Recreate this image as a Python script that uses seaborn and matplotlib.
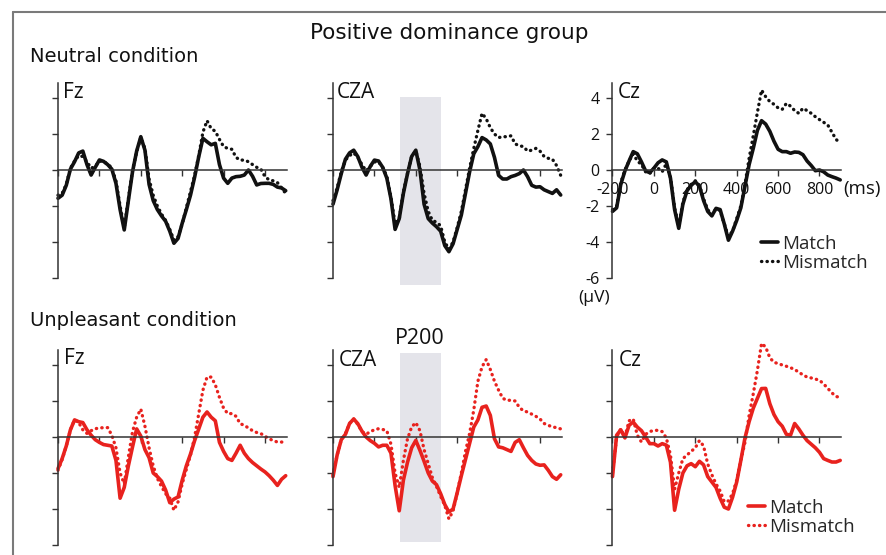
import matplotlib
matplotlib.use("Agg")
import matplotlib.pyplot as plt
from matplotlib.lines import Line2D
import numpy as np
import pandas as pd
import seaborn as sns

# ---------------- data ----------------
time_ms = list(range(-200, 901, 20))

neutral_fz_match = [-1.57, -1.4, -0.85, 0.05, 0.46, 0.95, 1.05, 0.3, -0.28, 0.15,
                    0.56, 0.48, 0.3, 0.05, -0.74, -2.2, -3.33, -1.7, -0.1, 1.05,
                    1.85, 1.1, -0.8, -1.7, -2.2, -2.55, -2.85, -3.4, -4.07, -3.8,
                    -2.96, -2.2, -1.4, -0.4, 0.74, 1.76, 1.57, 1.4, 1.48, 0.3,
                    -0.45, -0.74, -0.45, -0.37, -0.35, -0.28, 0.0, -0.35, -0.83, -0.75,
                    -0.74, -0.74, -0.8, -0.95, -1.0, -1.15]
neutral_fz_mismatch = [-1.4, -1.3, -0.8, 0.1, 0.5, 0.8, 0.75, 0.45, 0.1, 0.2,
                       0.5, 0.45, 0.35, 0.1, -0.6, -2.0, -3.2, -1.6, 0.0, 1.0,
                       1.8, 1.2, -0.5, -1.4, -2.0, -2.45, -2.8, -3.3, -3.9, -3.7,
                       -3.0, -2.1, -1.2, -0.3, 0.8, 2.1, 2.74, 2.3, 2.15, 1.7,
                       1.3, 1.2, 1.15, 0.7, 0.55, 0.55, 0.46, 0.3, 0.15, 0.05,
                       -0.37, -0.55, -0.6, -0.7, -1.0, -1.3]
neutral_cza_match = [-1.9, -1.1, -0.2, 0.6, 0.95, 1.1, 0.74, 0.15, -0.28, 0.2,
                     0.55, 0.5, 0.15, -0.45, -1.6, -3.3, -2.7, -1.3, -0.2, 0.75,
                     1.1, 0.0, -1.9, -2.7, -2.95, -3.15, -3.4, -4.2, -4.54, -4.1,
                     -3.3, -2.5, -1.3, -0.1, 0.9, 1.3, 1.8, 1.67, 1.45, 0.7,
                     -0.3, -0.5, -0.5, -0.37, -0.3, -0.2, 0.0, -0.37, -0.85, -0.95,
                     -0.93, -1.1, -1.2, -1.3, -1.1, -1.39]
neutral_cza_mismatch = [-1.7, -1.0, -0.1, 0.55, 0.8, 0.95, 0.7, 0.3, -0.05, 0.2,
                        0.45, 0.45, 0.15, -0.35, -1.5, -3.0, -2.7, -1.2, -0.2, 0.75,
                        1.05, 0.2, -1.3, -2.3, -2.8, -2.9, -3.1, -4.0, -4.4, -4.0,
                        -3.2, -2.3, -1.1, 0.1, 1.2, 2.2, 3.15, 2.85, 2.35, 2.0,
                        1.8, 1.85, 1.85, 1.9, 1.45, 1.35, 1.3, 1.05, 1.1, 1.2,
                        1.05, 0.75, 0.65, 0.6, 0.25, -0.3]
neutral_cz_match = [-2.3, -2.1, -0.8, -0.05, 0.5, 1.02, 0.9, 0.45, -0.05, -0.15,
                    0.1, 0.4, 0.56, 0.45, -0.45, -2.2, -3.24, -1.9, -1.15, -0.85,
                    -0.65, -0.9, -1.7, -2.3, -2.55, -2.13, -2.2, -3.0, -3.9, -3.4,
                    -2.8, -2.1, -0.9, 0.3, 1.2, 2.2, 2.74, 2.55, 2.15, 1.6,
                    1.15, 1.02, 1.02, 0.93, 1.0, 0.98, 0.85, 0.5, 0.25, -0.04,
                    0.0, -0.1, -0.28, -0.37, -0.45, -0.55]
neutral_cz_mismatch = [-2.2, -2.0, -0.7, 0.0, 0.5, 0.9, 0.5, 0.3, -0.1, -0.2,
                       0.1, 0.1, -0.1, 0.35, -0.4, -2.1, -3.1, -1.8, -1.1, -0.8,
                       -0.6, -0.85, -1.6, -2.2, -2.5, -2.15, -2.25, -3.0, -3.7, -3.4,
                       -2.7, -2.0, -0.8, 0.65, 1.9, 3.2, 4.44, 4.07, 3.8, 3.65,
                       3.45, 3.37, 3.7, 3.55, 3.3, 3.15, 3.43, 3.3, 3.15, 2.96,
                       2.8, 2.65, 2.5, 2.1, 1.7, 1.5]

unpleasant_fz_match = [-1.76, -1.2, -0.5, 0.4, 0.95, 0.85, 0.8, 0.4, 0.1, -0.15,
                       -0.3, -0.42, -0.46, -0.5, -1.3, -3.4, -2.8, -1.6, -0.55, 0.45,
                       0.05, -0.7, -1.15, -2.0, -2.2, -2.45, -2.95, -3.65, -3.45, -3.33,
                       -2.4, -1.6, -0.95, -0.2, 0.45, 1.1, 1.39, 1.1, 0.9, -0.3,
                       -0.8, -1.2, -1.3, -0.9, -0.46, -0.9, -1.2, -1.42, -1.6, -1.78,
                       -1.94, -2.15, -2.4, -2.69, -2.35, -2.15]
unpleasant_fz_mismatch = [-1.85, -1.25, -0.5, 0.4, 0.95, 0.8, 0.4, 0.2, 0.35, 0.46,
                          0.5, 0.52, 0.52, 0.1, -0.6, -2.0, -2.6, -1.1, 0.3, 1.1,
                          1.55, 0.6, -0.6, -1.6, -2.3, -2.75, -3.15, -3.4, -4.07, -3.6,
                          -2.6, -1.8, -1.0, 0.0, 1.3, 2.6, 3.33, 3.33, 2.9, 2.2,
                          1.6, 1.3, 1.3, 1.15, 0.74, 0.65, 0.5, 0.35, 0.25, 0.19,
                          0.04, -0.1, -0.2, -0.28, -0.28, -0.3]
unpleasant_cza_match = [-2.2, -1.0, -0.15, 0.15, 0.75, 1.0, 0.74, 0.32, 0.0, -0.2,
                        -0.35, -0.55, -0.46, -0.46, -0.9, -2.7, -4.1, -2.4, -1.4, -0.6,
                        -0.19, -0.74, -1.35, -2.0, -2.45, -2.65, -3.15, -3.75, -4.17, -4.0,
                        -3.1, -2.15, -1.25, -0.35, 0.55, 0.95, 1.65, 1.72, 1.2, -0.1,
                        -0.55, -0.6, -0.7, -0.8, -0.3, -0.15, -0.6, -1.02, -1.3, -1.5,
                        -1.57, -1.55, -1.85, -2.2, -2.35, -2.1]
unpleasant_cza_mismatch = [-2.1, -1.0, -0.15, 0.2, 0.75, 1.0, 0.7, 0.3, 0.15, 0.3,
                           0.4, 0.46, 0.42, 0.35, -0.4, -2.0, -2.8, -1.3, -0.1, 0.56,
                           0.8, 0.35, -0.7, -1.48, -2.25, -2.75, -3.3, -3.8, -4.55, -4.1,
                           -3.1, -2.0, -0.8, 0.2, 1.5, 3.1, 3.9, 4.3, 3.75, 3.1,
                           2.6, 2.15, 2.04, 2.04, 2.0, 1.65, 1.45, 1.39, 1.27, 1.15,
                           1.0, 0.75, 0.65, 0.56, 0.52, 0.45]
unpleasant_cz_match = [-2.2, 0.1, 0.4, -0.05, 0.65, 0.83, 0.55, 0.35, 0.0, -0.37,
                       -0.37, -0.5, -0.37, -0.45, -1.4, -4.07, -2.9, -2.0, -1.6, -1.48,
                       -1.65, -1.35, -1.55, -2.2, -2.5, -2.8, -3.4, -3.9, -4.0, -3.35,
                       -2.5, -1.3, -0.05, 0.85, 1.6, 2.15, 2.69, 2.7, 1.85, 1.25,
                       0.85, 0.6, 0.15, 0.1, 0.75, 0.45, 0.1, -0.2, -0.4, -0.6,
                       -0.85, -1.2, -1.3, -1.39, -1.39, -1.3]
unpleasant_cz_mismatch = [-2.0, 0.0, 0.45, 0.0, 0.9, 1.0, 0.1, -0.28, 0.15, 0.3,
                          0.37, 0.37, 0.3, -0.05, -1.0, -2.9, -2.0, -1.2, -1.0, -0.8,
                          -0.6, -0.2, -0.5, -1.5, -2.1, -2.6, -3.0, -3.6, -3.55, -3.15,
                          -2.4, -1.3, -0.3, 1.2, 2.4, 3.7, 5.2, 5.0, 4.4, 4.15,
                          4.08, 4.0, 3.93, 3.85, 3.75, 3.6, 3.45, 3.33, 3.28, 3.22,
                          3.15, 2.95, 2.7, 2.45, 2.25, 2.2]

conditions = ["Neutral condition", "Unpleasant condition"]
electrodes = ["Fz", "CZA", "Cz"]
levels = ["Match", "Mismatch"]
series = {
    ("Neutral condition", "Fz"): (neutral_fz_match, neutral_fz_mismatch),
    ("Neutral condition", "CZA"): (neutral_cza_match, neutral_cza_mismatch),
    ("Neutral condition", "Cz"): (neutral_cz_match, neutral_cz_mismatch),
    ("Unpleasant condition", "Fz"): (unpleasant_fz_match, unpleasant_fz_mismatch),
    ("Unpleasant condition", "CZA"): (unpleasant_cza_match, unpleasant_cza_mismatch),
    ("Unpleasant condition", "Cz"): (unpleasant_cz_match, unpleasant_cz_mismatch),
}
xticks = [-200, 0, 200, 400, 600, 800]
yticks = [-6, -4, -2, 0, 2, 4]
p200_window = (125, 320)

rows = []
for (cond, el), (m, mm) in series.items():
    for lev, vals in zip(levels, (m, mm)):
        for t, v in zip(time_ms, vals):
            rows.append((cond, el, lev, t, v))
df = pd.DataFrame(rows, columns=["condition", "electrode", "type", "time", "uv"])

# ---------------- style ----------------
sns.set_theme(style="white")
plt.rcParams["font.family"] = ["Open Sans", "DejaVu Sans"]
plt.rcParams["lines.dash_capstyle"] = "round"
plt.rcParams["lines.solid_capstyle"] = "round"
plt.rcParams["lines.solid_joinstyle"] = "round"

W, H = 887, 555
fig = plt.figure(figsize=(W / 100, H / 100), dpi=100)


def fx(x):
    return x / W


def fy(y):
    return 1 - y / H


row_colors = {"Neutral condition": "#111111", "Unpleasant condition": "#e8221e"}
row_zero_px = {"Neutral condition": 170, "Unpleasant condition": 437}
col_left_px = {"Fz": 58, "CZA": 333, "Cz": 612.5}
px_per_ms = 0.207
px_per_uv = 18.0
XLIM = (-200, 910)
YLIM = (-6, 4.85)
axis_col = "#333333"
txt_col = "#111111"

axes = {}
for cond in conditions:
    for el in electrodes:
        left = col_left_px[el]
        top = row_zero_px[cond] - YLIM[1] * px_per_uv
        wpx = (XLIM[1] - XLIM[0]) * px_per_ms
        hpx = (YLIM[1] - YLIM[0]) * px_per_uv
        ax = fig.add_axes([fx(left), fy(top + hpx), wpx / W, hpx / H])
        ax.patch.set_visible(False)
        sub = df[(df.condition == cond) & (df.electrode == el)]
        if el == "CZA":
            lo, hi = (-6.4, 4.05) if cond == "Neutral condition" else (-5.85, 4.65)
            ax.fill_between(list(p200_window), lo, hi, color="#e4e4ea",
                            linewidth=0, zorder=0, clip_on=False)
        sns.lineplot(data=sub, x="time", y="uv", style="type", style_order=levels,
                     dashes={"Match": "", "Mismatch": (0.1, 1.55)},
                     color=row_colors[cond], linewidth=2.6, errorbar=None,
                     legend=False, ax=ax)
        for ln in ax.lines:
            ln.set_clip_on(False)
            if ln.get_linestyle() != "-":
                ln.set_linewidth(2.4)
        ax.set_xlim(*XLIM)
        ax.set_ylim(*YLIM)
        ax.set_xlabel("")
        ax.set_ylabel("")
        for s in ("top", "right"):
            ax.spines[s].set_visible(False)
        ax.spines["bottom"].set_position(("data", 0))
        ax.spines["bottom"].set_bounds(-200, 905)
        for s in ("left", "bottom"):
            ax.spines[s].set_color(axis_col)
            ax.spines[s].set_linewidth(1.1)
        ax.set_xticks(xticks)
        ax.set_yticks(yticks)
        show = (cond == "Neutral condition" and el == "Cz")
        ax.tick_params(axis="both", direction="out", length=4, width=1.0,
                       color=axis_col, labelsize=11.5, labelcolor=txt_col,
                       left=True, bottom=True,
                       labelleft=show, labelbottom=show)
        ax.tick_params(axis="y", pad=5.5)
        ax.tick_params(axis="x", pad=4.5)
        if show:
            ax.set_xticklabels([str(t) for t in xticks])
            ax.set_yticklabels([str(t) for t in yticks])
        axes[(cond, el)] = ax

# panel labels
label_pos = {
    ("Neutral condition", "Fz"): (63, 92), ("Neutral condition", "CZA"): (337, 92),
    ("Neutral condition", "Cz"): (618, 92), ("Unpleasant condition", "Fz"): (64, 359),
    ("Unpleasant condition", "CZA"): (339, 360), ("Unpleasant condition", "Cz"): (619, 360),
}
for (cond, el), (x, y) in label_pos.items():
    fig.text(fx(x), fy(y), el, ha="left", va="center", fontsize=15, color=txt_col)

fig.text(fx(449), fy(33), "Positive dominance group", ha="center", va="center",
         fontsize=15.5, family="DejaVu Sans", color=txt_col)
fig.text(fx(30), fy(56), conditions[0], ha="left", va="center", fontsize=14,
         family="DejaVu Sans", color=txt_col)
fig.text(fx(30), fy(320), conditions[1], ha="left", va="center", fontsize=14,
         family="DejaVu Sans", color=txt_col)
fig.text(fx(420), fy(339), "P200", ha="center", va="center", fontsize=15.5, color=txt_col)
fig.text(fx(843), fy(189), "(ms)", ha="left", va="center", fontsize=13.5, color=txt_col)
fig.text(fx(594), fy(298), "(\u00b5V)", ha="center", va="center", fontsize=12.5, color=txt_col)

# legends
for cond, (lx, ly) in {"Neutral condition": (761, 235), "Unpleasant condition": (748, 499)}.items():
    c = row_colors[cond]
    handles = [Line2D([], [], color=c, lw=2.6),
               Line2D([], [], color=c, lw=2.4, dashes=(0.1, 1.55), dash_capstyle="round")]
    axes[(cond, "Cz")].legend(handles, levels, loc="upper left",
                              bbox_to_anchor=(fx(lx), fy(ly)), bbox_transform=fig.transFigure,
                              frameon=False, borderpad=0, borderaxespad=0,
                              handlelength=0.9, handletextpad=0.22, labelspacing=0.05,
                              fontsize=13.5)

# outer frame (left and top)
fig.add_artist(Line2D([fx(13), fx(13)], [0, fy(12)], transform=fig.transFigure,
                      color="#7a7a7a", lw=1.5))
fig.add_artist(Line2D([fx(13), 1], [fy(12), fy(12)], transform=fig.transFigure,
                      color="#7a7a7a", lw=1.5))

fig.savefig("out.png", dpi=100)
